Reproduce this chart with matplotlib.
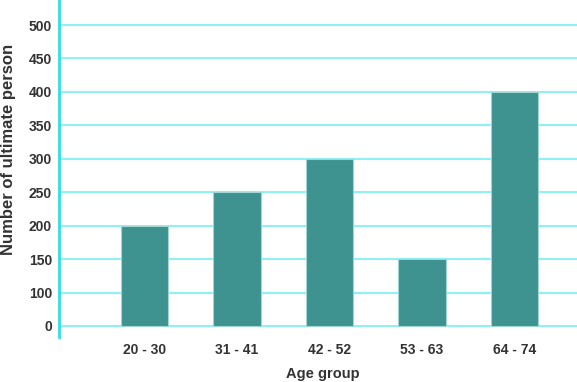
import matplotlib
matplotlib.use("Agg")
import matplotlib.pyplot as plt
import numpy as np

categories = ["20 - 30", "31 - 41", "42 - 52", "53 - 63", "64 - 74"]
values = [200, 250, 300, 150, 400]
ytick_values = [50, 100, 150, 200, 250, 300, 350, 400, 450, 500]
ytick_labels = ["0", "100", "150", "200", "250", "300", "350", "400", "450", "500"]
base = 50

plt.rcParams['font.family'] = ['Liberation Sans', 'DejaVu Sans']

fig = plt.figure(figsize=(5.77, 3.82), dpi=100)
ax = fig.add_axes([59/577, 1 - 337/382, (577-59)/577, 337/382])

x = np.arange(len(categories))
ax.bar(x, np.array(values) - base, bottom=base, width=0.51, color="#3e9290",
       edgecolor="#9fd6d4", linewidth=0.8, zorder=3)

ax.set_xlim(-0.924, 4.676)
ax.set_ylim(33.5, 537.4)
ax.set_yticks(ytick_values)
ax.set_yticklabels(ytick_labels)
ax.set_xticks(x)
ax.set_xticklabels(categories)
ax.grid(axis="y", color="#8ef2f4", linewidth=1.5, zorder=0)
ax.tick_params(axis="both", length=0, labelcolor="#333333")
ax.tick_params(axis="y", pad=5, labelsize=10)
ax.tick_params(axis="x", pad=4, labelsize=10)
for lab in ax.get_xticklabels() + ax.get_yticklabels():
    lab.set_fontweight("bold")

for s in ["top", "right", "bottom"]:
    ax.spines[s].set_visible(False)
ax.spines["left"].set_color("#2ee0e6")
ax.spines["left"].set_linewidth(2)

fig.text(323/577, 1 - 374/382, "Age group", fontsize=10.5, fontweight="bold",
         color="#333333", ha="center", va="center")
fig.text(8.5/577, 1 - 149/382, "Number of ultimate person", fontsize=12, fontweight="bold",
         color="#333333", ha="center", va="center", rotation=90)

fig.savefig("out.png", dpi=100)
